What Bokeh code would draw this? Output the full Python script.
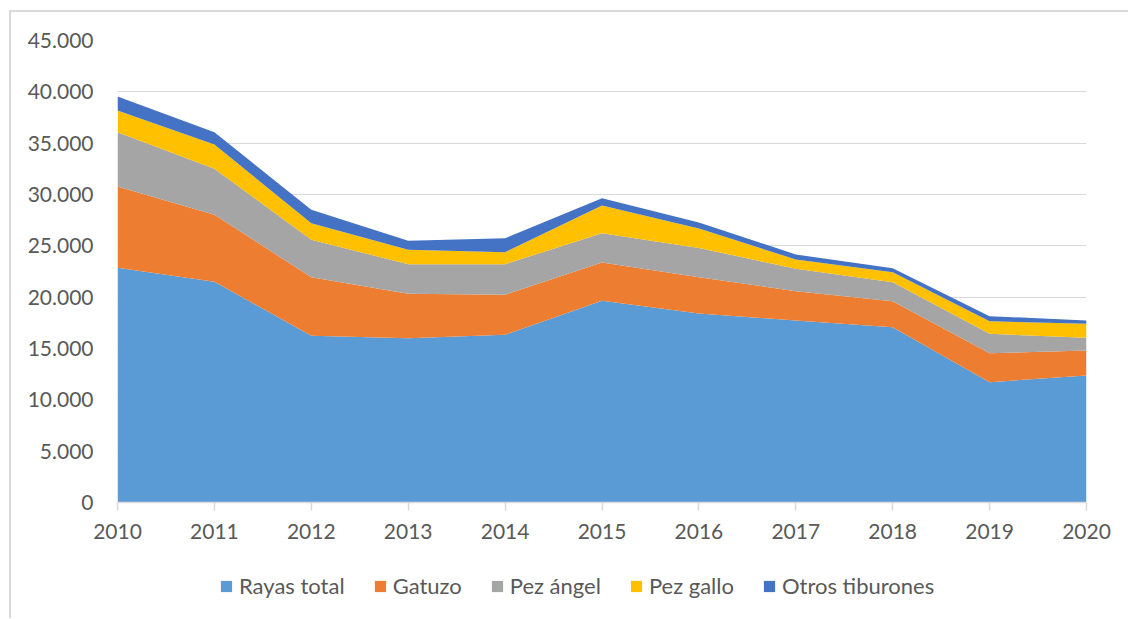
from bokeh.plotting import figure
from bokeh.layouts import column
from bokeh.models import Range1d, Legend, LegendItem, CustomJSTickFormatter, FixedTicker, ColumnDataSource
from bokeh.embed import file_html
from bokeh.resources import INLINE

years = [2010, 2011, 2012, 2013, 2014, 2015, 2016, 2017, 2018, 2019, 2020]
rayas = [22860, 21500, 16240, 16000, 16330, 19640, 18400, 17730, 17080, 11720, 12370]
gatuzo = [7920, 6520, 5710, 4330, 3900, 3740, 3550, 2850, 2530, 2820, 2430]
pez_angel = [5290, 4480, 3640, 2880, 2980, 2850, 2850, 2180, 1850, 1890, 1240]
pez_gallo = [2110, 2370, 1620, 1400, 1170, 2700, 1900, 910, 970, 1230, 1360]
otros = [1365, 1200, 1300, 880, 1365, 710, 580, 485, 390, 490, 330]

series_names = ["Rayas total", "Gatuzo", "Pez ángel", "Pez gallo", "Otros tiburones"]
series_keys = ["rayas", "gatuzo", "angel", "gallo", "otros"]
colors = ["#5B9BD5", "#ED7D31", "#A5A5A5", "#FFC000", "#4472C4"]
y_ticks = [0, 5000, 10000, 15000, 20000, 25000, 30000, 35000, 40000, 45000]

source = ColumnDataSource(dict(x=years, rayas=rayas, gatuzo=gatuzo, angel=pez_angel,
                               gallo=pez_gallo, otros=otros))

FONT = "Lato"
TXT = "#595959"
GRID = "#d9d9d9"

# main chart
p = figure(width=1117, height=529, output_backend="svg", toolbar_location=None,
           x_range=Range1d(2010, 2020), y_range=Range1d(0, 45000),
           min_border_left=106, min_border_right=42, min_border_top=28, min_border_bottom=20)
p.outline_line_color = None

renderers = p.varea_stack(stackers=series_keys, x="x", color=colors, source=source)

p.xgrid.grid_line_color = None
p.ygrid.grid_line_color = GRID
p.ygrid.grid_line_width = 1

p.yaxis.ticker = FixedTicker(ticks=y_ticks)
p.yaxis.formatter = CustomJSTickFormatter(code="""
return tick.toFixed(0).replace(/\\B(?=(\\d{3})+(?!\\d))/g, '.');
""")
p.yaxis.axis_line_color = None
p.yaxis.major_tick_line_color = None
p.yaxis.major_tick_out = 0
p.yaxis.major_tick_in = 0
p.yaxis.minor_tick_line_color = None
p.yaxis.major_label_standoff = 24
p.yaxis.major_label_text_font = FONT
p.yaxis.major_label_text_font_size = "21px"
p.yaxis.major_label_text_color = TXT

p.xaxis.ticker = FixedTicker(ticks=years)
p.xaxis.axis_line_color = GRID
p.xaxis.axis_line_width = 1.5
p.xaxis.major_tick_line_color = GRID
p.xaxis.major_tick_line_width = 1.5
p.xaxis.major_tick_in = 0
p.xaxis.major_tick_out = 8
p.xaxis.minor_tick_line_color = None
p.xaxis.major_label_standoff = 13
p.xaxis.major_label_text_font = FONT
p.xaxis.major_label_text_font_size = "21px"
p.xaxis.major_label_text_color = TXT

# legend strip below the chart: zero-area swatch renderers carrying the series colours
q = figure(width=1117, height=77, output_backend="svg", toolbar_location=None,
           x_axis_location=None, y_axis_location=None,
           x_range=Range1d(0, 1), y_range=Range1d(0, 1),
           min_border_left=0, min_border_right=0, min_border_top=0, min_border_bottom=0)
q.outline_line_color = None
q.grid.visible = False
legend_renderers = [q.varea(x=[0, 1], y1=[0, 0], y2=[0, 0], color=c) for c in colors]

items = [LegendItem(label=n, renderers=[r]) for n, r in zip(series_names, legend_renderers)]
legend = Legend(items=items, orientation="horizontal", location=(102, 19),
                label_text_font=FONT, label_text_font_size="22px", label_text_color=TXT,
                glyph_width=14, glyph_height=14, spacing=28, label_standoff=6,
                padding=0, margin=0, border_line_color=None, background_fill_alpha=0)
q.add_layout(legend, "center")

layout = column(p, q, spacing=0)
layout.margin = (10, 0, 0, 9)
layout.styles = {"border-top": "2px solid #d9d9d9", "border-left": "2px solid #d9d9d9"}

open("out.html", "w").write(file_html(layout, INLINE))
